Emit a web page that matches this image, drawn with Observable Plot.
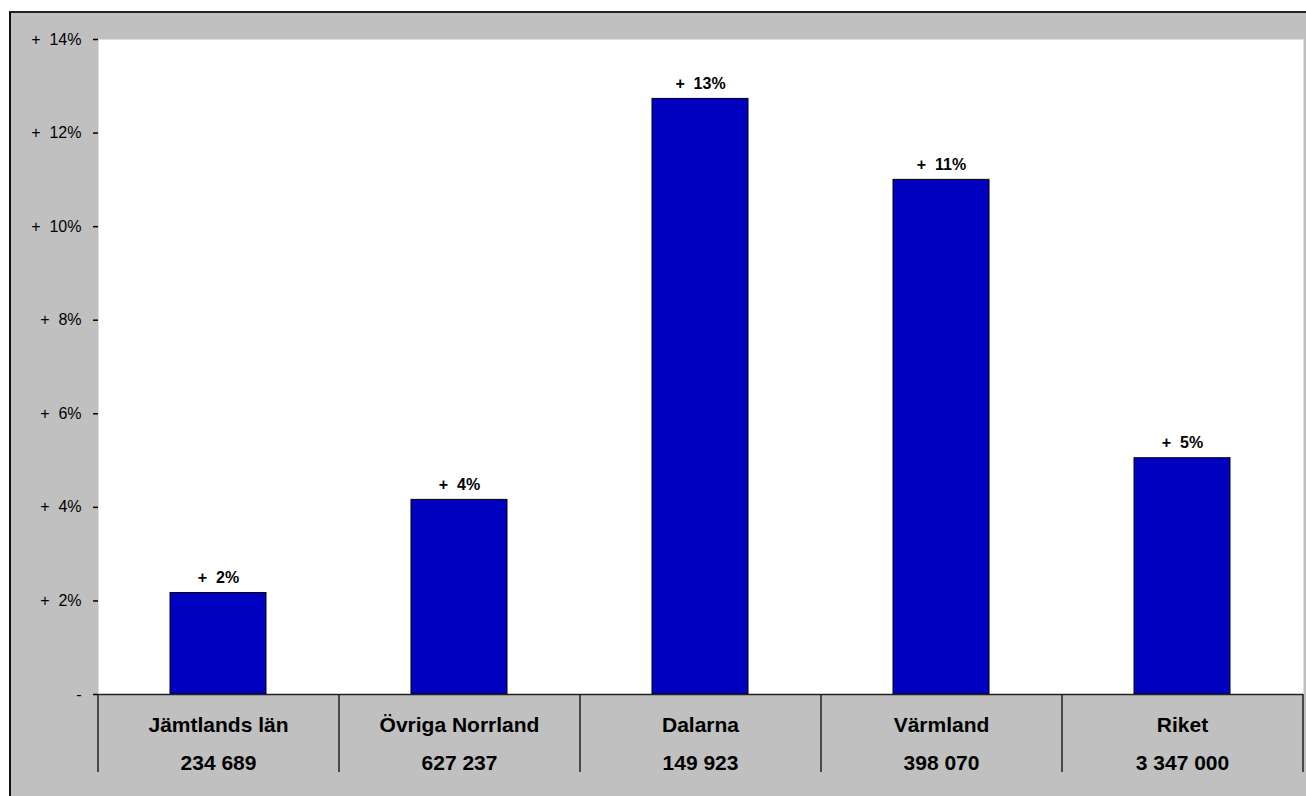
<!DOCTYPE html>
<html>
<head>
<meta charset="utf-8">
<script src="https://cdn.jsdelivr.net/npm/d3@7"></script>
<script src="https://cdn.jsdelivr.net/npm/@observablehq/plot@0.6"></script>
<style>
  html, body { margin: 0; padding: 0; background: #fff; overflow: hidden; }
  #bg { position: absolute; left: 9px; top: 11px; right: 0; bottom: 0; background: #c0c0c0; border-left: 2px solid #111; border-top: 2px solid #222; }
  #chart { position: absolute; left: 0; top: 0; }
</style>
</head>
<body>
<div id="bg"></div>
<div id="chart"></div>
<script>
const categories = ["Jämtlands län", "Övriga Norrland", "Dalarna", "Värmland", "Riket"];
const populations = ["234 689", "627 237", "149 923", "398 070", "3 347 000"];
const changes = [2.17, 4.16, 12.73, 11.0, 5.05];
const valueLabels = ["2%", "4%", "13%", "11%", "5%"];
const yTicks = [0, 2, 4, 6, 8, 10, 12, 14];

const data = categories.map((c, i) => ({category: c, population: populations[i], change: changes[i], label: valueLabels[i]}));

const W = 1306, H = 796, mL = 98, mR = 3, mT = 39, mB = 102;
const step = (W - mL - mR) / categories.length;
const fmtY = v => v === 0 ? "-" : "+\u00a0\u00a0" + v + "%";
const popOf = c => populations[categories.indexOf(c)];

const chart = Plot.plot({
  width: W, height: H,
  marginLeft: mL, marginRight: mR, marginTop: mT, marginBottom: mB,
  style: {background: "transparent", fontFamily: "Arial, 'Liberation Sans', sans-serif", color: "#000"},
  x: {domain: categories, paddingInner: 0.6, paddingOuter: 0.3},
  y: {domain: [0, 14]},
  marks: [
    Plot.frame({fill: "white", stroke: "none"}),
    Plot.barY(data, {x: "category", y: "change", fill: "#0000c0", stroke: "#000", strokeWidth: 1}),
    Plot.ruleY([0], {stroke: "#222", strokeWidth: 1.5}),
    Plot.axisY({ticks: yTicks, tickSize: 5, tickPadding: 12, tickFormat: fmtY, fontSize: 16, line: true, label: null, strokeWidth: 1.5}),
    Plot.axisX({tickSize: 78, dx: -step / 2, tickFormat: () => "", label: null, strokeWidth: 1.5, stroke: "#222"}),
    Plot.axisX({ticks: [categories[categories.length - 1]], tickSize: 78, dx: step / 2, tickFormat: () => "", label: null, strokeWidth: 1.5, stroke: "#222"}),
    Plot.axisX({tickSize: 0, tickPadding: 11, fontSize: 21, fontWeight: "bold", lineHeight: 1.81, tickFormat: c => c + "\n" + popOf(c), label: null}),
    Plot.text(data, {x: "category", y: "change", text: d => "+\u00a0\u00a0" + d.label, lineAnchor: "bottom", dy: -10, fontWeight: "bold", fontSize: 16})
  ]
});
document.getElementById("chart").appendChild(chart);
</script>
</body>
</html>
